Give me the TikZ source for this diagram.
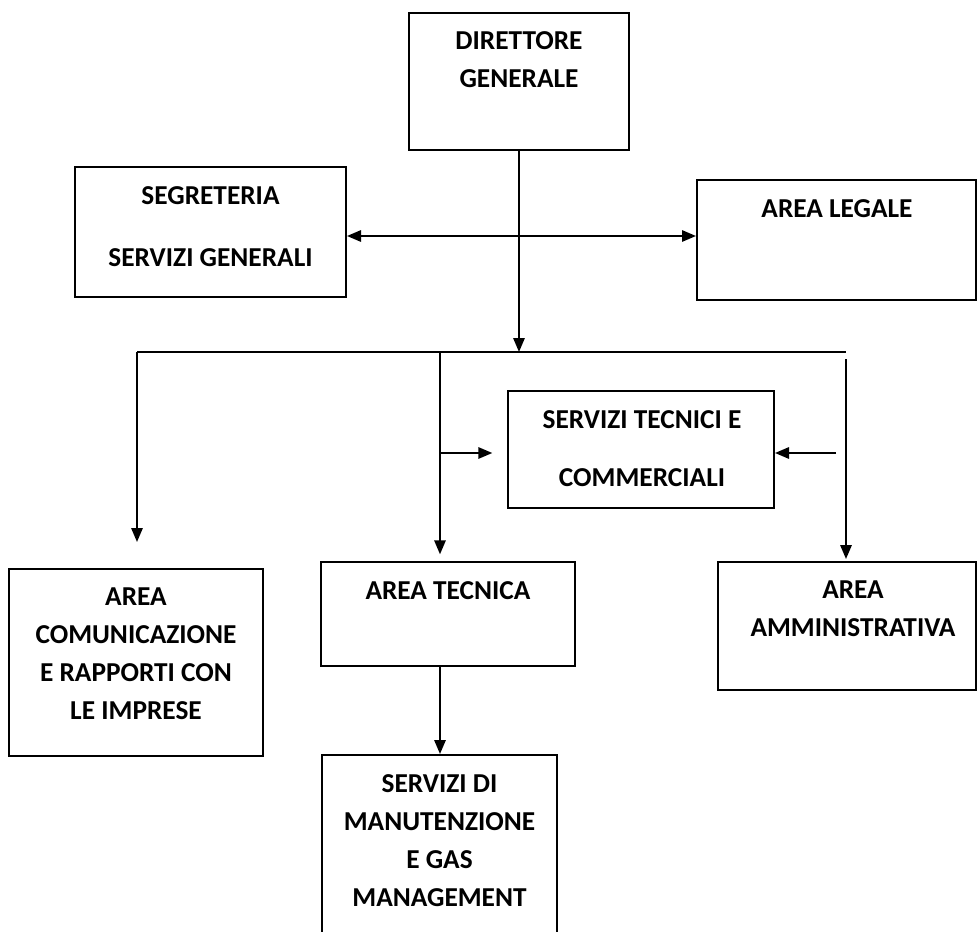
\documentclass[tikz,border=0pt]{standalone}
\usepackage{fontspec}
\setmainfont{Carlito}
\usepackage{tikz}
\usetikzlibrary{fit}
\usetikzlibrary{arrows.meta}

\begin{document}
\begin{tikzpicture}[x=0.75pt, y=-0.75pt,
        box/.style={draw, line width=1.5pt, inner sep=0pt},
        txt/.style={align=center, inner sep=0pt, font=\fontsize{20.5}{28.5}\selectfont\bfseries},
        arr/.style={line width=1.5pt, -{Triangle[length=10.5pt, width=8.5pt]}},
        dblarr/.style={line width=1.5pt, {Triangle[length=10.5pt, width=8.5pt]}-{Triangle[length=10.5pt, width=8.5pt]}}]
    \useasboundingbox (0,0) rectangle (977,931);
    % boxes
    \node[box, fit={(409,13) (629,150)}]  (dg)  {};
    \node[box, fit={(75,167) (346,297)}]  (seg) {};
    \node[box, fit={(697,180) (976,300)}] (leg) {};
    \node[box, fit={(508,391) (774,508)}] (stc) {};
    \node[box, fit={(9,569) (263,756)}]   (com) {};
    \node[box, fit={(321,562) (575,666)}] (tec) {};
    \node[box, fit={(718,562) (976,690)}] (amm) {};
    \node[box, fit={(322,755) (557,945)}] (man) {};
    % labels
    \node[txt] (dg-t)  at (519,60)    {DIRETTORE\\GENERALE};
    \node[txt] (seg-t) at (210.5,226.5) {SEGRETERIA\\[18.5pt]SERVIZI GENERALI};
    \node[txt] (leg-t) at (837,209)   {AREA LEGALE};
    \node[txt] (stc-t) at (642,449)   {SERVIZI TECNICI E\\[15pt]COMMERCIALI};
    \node[txt] (com-t) at (136,654)   {AREA\\COMUNICAZIONE\\E RAPPORTI CON\\LE IMPRESE};
    \node[txt] (tec-t) at (448,591)   {AREA TECNICA};
    \node[txt] (amm-t) at (853,608.5) {AREA\\AMMINISTRATIVA};
    \node[txt] (man-t) at (439.5,841) {SERVIZI DI\\MANUTENZIONE\\E GAS\\MANAGEMENT};
    % bus and taps
    \coordinate (hub)  at (519,352);
    \coordinate (lat)  at (519,236);
    \coordinate (busl) at (137,352);
    \coordinate (busm) at (440,352);
    \coordinate (busr) at (846,352);
    \coordinate (topr) at (846,359);
    \coordinate (tapl) at (440,453);
    \coordinate (tapr) at (836,453);
    % connectors
    \draw[line width=1.5pt] (busl) -- (busr);
    \draw[arr] (dg.south) -- (hub);
    \draw[dblarr] (seg.east |- lat) -- (leg.west |- lat);
    \draw[arr, shorten >=19.5pt] (busl) -- (busl |- com.north);
    \draw[arr, shorten >=5pt] (busm) -- (busm |- tec.north);
    \draw[arr, shorten >=11pt] (tapl) -- (stc.west |- tapl);
    \draw[arr, shorten >=1.5pt] (topr) -- (topr |- amm.north);
    \draw[arr] (tapr) -- (stc.east |- tapr);
    \draw[arr] (busm |- tec.south) -- (busm |- man.north);
\end{tikzpicture}
\end{document}
